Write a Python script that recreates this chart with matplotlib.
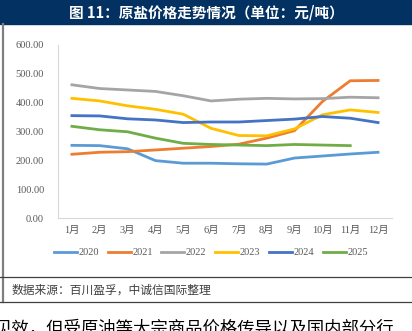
import matplotlib
matplotlib.use("Agg")
import matplotlib.pyplot as plt
from matplotlib.lines import Line2D

plt.rcParams['font.family'] = ['Liberation Serif', 'Noto Sans CJK SC', 'DejaVu Sans']

months = ['1月', '2月', '3月', '4月', '5月', '6月', '7月', '8月', '9月', '10月', '11月', '12月']
years = ['2020', '2021', '2022', '2023', '2024', '2025']
y2020 = [252, 251, 240, 199, 190, 190, 188, 187, 208, 215, 222, 228]
y2021 = [221, 228, 230, 236, 242, 248, 256, 277, 303, 404, 476, 477]
y2022 = [462, 449, 444, 439, 424, 406, 412, 415, 413, 414, 419, 417]
y2023 = [415, 406, 389, 377, 360, 311, 286, 285, 309, 358, 375, 366]
y2024 = [355, 354, 344, 340, 331, 333, 333, 338, 343, 352, 346, 331]
y2025 = [318, 306, 299, 277, 259, 255, 253, 251, 255, 253, 251]
series = [y2020, y2021, y2022, y2023, y2024, y2025]
colors = ['#5B9BD5', '#ED7D31', '#A5A5A5', '#FFC000', '#4472C4', '#70AD47']

fig = plt.figure(figsize=(4.12, 3.31), dpi=100)

# title bar
fig.patches.append(plt.Rectangle((0, 1 - 24 / 331), 1, 24 / 331, transform=fig.transFigure,
                                 color='#033161', zorder=0))
fig.text(0.5, 1 - 12 / 331, '图 11：原盐价格走势情况（单位：元/吨）', color='white',
         ha='center', va='center', fontsize=10.5, fontweight='bold',
         family=['Noto Sans CJK SC', 'DejaVu Sans'])

# frame lines
fig.add_artist(Line2D([2.5 / 412, 2.5 / 412], [1 - 302 / 331, 1 - 24 / 331],
                      transform=fig.transFigure, color='#7f7f7f', lw=1.6))
for yy in (277, 302):
    fig.add_artist(Line2D([0, 1], [1 - yy / 331, 1 - yy / 331],
                          transform=fig.transFigure, color='#404040', lw=0.9))

ax = fig.add_axes([58 / 412, 1 - 218 / 331, 334 / 412, 173 / 331])
for vals, c, name in zip(series, colors, years):
    ax.plot(months[:len(vals)], vals, color=c, lw=2.0, label=name)

ax.set_ylim(0, 600)
ax.set_xlim(-0.5, 11.5)
ax.set_yticks(range(0, 601, 100))
ax.set_yticklabels(['%.2f' % v for v in range(0, 601, 100)])
for s in ('top', 'right'):
    ax.spines[s].set_visible(False)
for s in ('left', 'bottom'):
    ax.spines[s].set_color('#d9d9d9')
    ax.spines[s].set_linewidth(0.8)
ax.tick_params(length=0, colors='#595959', labelsize=7.5)
ax.tick_params(axis='y', pad=10)
ax.tick_params(axis='x', pad=6)
for lab in ax.get_xticklabels():
    lab.set_fontfamily(['Liberation Serif', 'Noto Sans CJK SC'])

ax.legend(loc='center', bbox_to_anchor=(0.458, -0.2), ncol=6, frameon=False,
          fontsize=7.5, handlelength=2.2, handletextpad=0.15, columnspacing=0.85,
          labelcolor='#595959')

fig.text(12 / 412, 1 - 290 / 331, '数据来源：百川盈孚，中诚信国际整理', color='#404040',
         ha='left', va='center', fontsize=8.5, style='italic',
         family=['Noto Sans CJK SC', 'DejaVu Sans'])

fig.text(-6 / 412, 1 - 329 / 331, '见效，但受原油等大宗商品价格传导以及国内部分行', color='black',
         ha='left', va='center', fontsize=12.5,
         family=['Noto Sans CJK SC', 'DejaVu Sans'])

fig.savefig('out.png', dpi=100)
